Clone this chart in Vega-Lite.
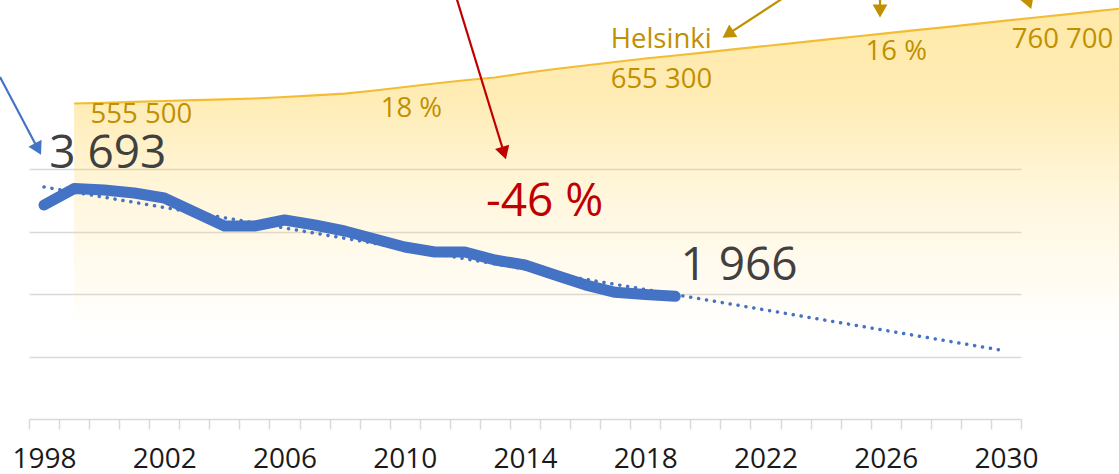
{
  "$schema": "https://vega.github.io/schema/vega-lite/v6.json",
  "width": 992,
  "height": 419,
  "autosize": {"type": "none"},
  "padding": {"left": 29, "top": 0, "right": 98, "bottom": 55},
  "background": "white",
  "config": {"view": {"stroke": null}, "font": "Open Sans"},
  "datasets": {
    "pop": [
      {"year": 1999, "pop": 555500}, {"year": 2000, "pop": 557000}, {"year": 2001, "pop": 558800},
      {"year": 2002, "pop": 560700}, {"year": 2003, "pop": 562400}, {"year": 2004, "pop": 564000},
      {"year": 2005, "pop": 565900}, {"year": 2006, "pop": 569000}, {"year": 2007, "pop": 572500},
      {"year": 2008, "pop": 576100}, {"year": 2009, "pop": 582500}, {"year": 2010, "pop": 589800},
      {"year": 2011, "pop": 597100}, {"year": 2012, "pop": 603900}, {"year": 2013, "pop": 609600},
      {"year": 2014, "pop": 618900}, {"year": 2015, "pop": 627200}, {"year": 2016, "pop": 634500},
      {"year": 2017, "pop": 641800}, {"year": 2018, "pop": 649100}, {"year": 2019, "pop": 655300},
      {"year": 2020, "pop": 661900}, {"year": 2021, "pop": 668500}, {"year": 2022, "pop": 675100},
      {"year": 2023, "pop": 681600}, {"year": 2024, "pop": 688200}, {"year": 2025, "pop": 694800},
      {"year": 2026, "pop": 701400}, {"year": 2027, "pop": 708000}, {"year": 2028, "pop": 714500},
      {"year": 2029, "pop": 721100}, {"year": 2030, "pop": 727700}, {"year": 2031, "pop": 734300},
      {"year": 2032, "pop": 740900}, {"year": 2033, "pop": 747500}, {"year": 2034, "pop": 754100},
      {"year": 2035, "pop": 760700}
    ],
    "co2": [
      {"year": 1998, "co2": 3429}, {"year": 1999, "co2": 3693}, {"year": 2000, "co2": 3670},
      {"year": 2001, "co2": 3622}, {"year": 2002, "co2": 3542}, {"year": 2003, "co2": 3317},
      {"year": 2004, "co2": 3093}, {"year": 2005, "co2": 3093}, {"year": 2006, "co2": 3189},
      {"year": 2007, "co2": 3109}, {"year": 2008, "co2": 3013}, {"year": 2009, "co2": 2885},
      {"year": 2010, "co2": 2756}, {"year": 2011, "co2": 2676}, {"year": 2012, "co2": 2676},
      {"year": 2013, "co2": 2548}, {"year": 2014, "co2": 2468}, {"year": 2015, "co2": 2308},
      {"year": 2016, "co2": 2150}, {"year": 2017, "co2": 2030}, {"year": 2018, "co2": 1995},
      {"year": 2019, "co2": 1966}
    ],
    "trend": [
      {"year": 1998, "trend": 3718}, {"year": 2030, "trend": 1090}
    ],
    "labels": [
      {"text": "555 500", "year": 1999.55, "v": 4744, "kind": "gold"},
      {"text": "18 %", "year": 2009.2, "v": 4840, "kind": "gold"},
      {"text": "Helsinki", "year": 2016.85, "v": 5946, "kind": "gold"},
      {"text": "655 300", "year": 2016.85, "v": 5305, "kind": "gold"},
      {"text": "16 %", "year": 2025.33, "v": 5753, "kind": "gold"},
      {"text": "760 700", "year": 2030.19, "v": 5946, "kind": "gold"},
      {"text": "3 693", "year": 1998.17, "v": 4022, "kind": "dark"},
      {"text": "1 966", "year": 2019.17, "v": 2228, "kind": "dark"},
      {"text": "-46 %", "year": 2012.7, "v": 3253, "kind": "red"}
    ],
    "arrows": [
      {"kind": "blue", "year": 1997.8, "v": 4327, "year0": 1996.535, "v0": 5481, "angle": -27.7},
      {"kind": "red", "year": 2013.302, "v": 4263, "year0": 2011.69, "v0": 6795, "angle": -17},
      {"kind": "gold", "year": 2020.75, "v": 6167, "year0": 2022.64, "v0": 6763, "angle": 56.8},
      {"kind": "gold", "year": 2025.81, "v": 6539, "year0": 2025.81, "v0": 6800, "angle": 0},
      {"kind": "gold", "year": 2030.767, "v": 6667, "year0": 2030.654, "v0": 6817, "angle": -20}
    ]
  },
  "encoding": {
    "x": {
      "field": "year",
      "type": "quantitative",
      "scale": {"domain": [1997.5, 2030.5], "nice": false, "zero": false},
      "axis": {
        "values": [1997.5, 1998.5, 1999.5, 2000.5, 2001.5, 2002.5, 2003.5, 2004.5, 2005.5, 2006.5, 2007.5, 2008.5, 2009.5, 2010.5, 2011.5, 2012.5, 2013.5, 2014.5, 2015.5, 2016.5, 2017.5, 2018.5, 2019.5, 2020.5, 2021.5, 2022.5, 2023.5, 2024.5, 2025.5, 2026.5, 2027.5, 2028.5, 2029.5, 2030.5],
        "labelExpr": "(datum.value + 0.5 - 1998) % 4 === 0 && datum.value < 2030 ? format(datum.value + 0.5, 'd') : ''",
        "labelOffset": 15.03,
        "labelFlush": false,
        "labelOverlap": false,
        "labelBound": false,
        "labelAngle": 0,
        "grid": false,
        "title": null,
        "domainColor": "#d9d9d9",
        "domainWidth": 1.5,
        "tickColor": "#d9d9d9",
        "tickWidth": 1.5,
        "tickSize": 10,
        "labelPadding": 16,
        "labelFont": "Open Sans",
        "labelFontSize": 28,
        "labelColor": "#1a1a1a"
      }
    }
  },
  "layer": [
    {
      "data": {"name": "pop"},
      "mark": {
        "type": "area",
        "line": {"color": "#F2BD35", "strokeWidth": 2.2},
        "color": {
          "gradient": "linear",
          "x1": 0, "y1": 0, "x2": 0, "y2": 1,
          "stops": [
            {"offset": 0, "color": "rgba(255,212,85,0.72)"},
            {"offset": 0.26, "color": "rgba(255,212,85,0.62)"},
            {"offset": 0.53, "color": "rgba(255,212,85,0.28)"},
            {"offset": 0.8, "color": "rgba(255,212,85,0.08)"},
            {"offset": 0.93, "color": "rgba(255,255,255,0)"}
          ]
        }
      },
      "encoding": {
        "y": {"field": "pop", "type": "quantitative", "scale": {"domain": [-100400, 770700], "nice": false, "zero": false}, "axis": null}
      }
    },
    {
      "layer": [
        {
          "data": {"name": "co2"},
          "mark": {"type": "line", "color": "#4472C4", "strokeWidth": 11, "strokeCap": "round", "strokeJoin": "round"},
          "encoding": {
            "y": {"field": "co2", "type": "quantitative", "scale": {"domain": [0, 6715], "nice": false, "zero": false},
              "axis": {"values": [1000, 2000, 3000, 4000], "grid": true, "gridColor": "#d9d9d9", "gridWidth": 1.5, "domain": false, "ticks": false, "labels": false, "title": null}}
          }
        },
        {
          "mark": {"type": "rule", "color": "#ffffff", "strokeWidth": 1.5, "opacity": 0.85},
          "encoding": {
            "x": {"datum": 1997.5, "type": "quantitative"},
            "x2": {"datum": 2030.5},
            "y": {"datum": 4890, "type": "quantitative", "scale": {"domain": [0, 6715], "nice": false, "zero": false},
              "axis": {"values": [1000, 2000, 3000, 4000], "grid": true, "gridColor": "#d9d9d9", "gridWidth": 1.5, "domain": false, "ticks": false, "labels": false, "title": null}}
          }
        },
        {
          "data": {"name": "trend"},
          "mark": {"type": "line", "color": "#4472C4", "strokeWidth": 3.5, "strokeDash": [0.1, 7.9], "strokeCap": "round"},
          "encoding": {
            "y": {"field": "trend", "type": "quantitative", "scale": {"domain": [0, 6715], "nice": false, "zero": false},
              "axis": {"values": [1000, 2000, 3000, 4000], "grid": true, "gridColor": "#d9d9d9", "gridWidth": 1.5, "domain": false, "ticks": false, "labels": false, "title": null}}
          }
        },
        {
          "data": {"name": "arrows"},
          "mark": {"type": "rule", "strokeWidth": 2.2},
          "encoding": {
            "x2": {"field": "year0"},
            "y": {"field": "v", "type": "quantitative", "scale": {"domain": [0, 6715], "nice": false, "zero": false},
              "axis": {"values": [1000, 2000, 3000, 4000], "grid": true, "gridColor": "#d9d9d9", "gridWidth": 1.5, "domain": false, "ticks": false, "labels": false, "title": null}},
            "y2": {"field": "v0"},
            "color": {"field": "kind", "type": "nominal", "scale": {"domain": ["blue", "red", "gold"], "range": ["#4472C4", "#C00000", "#BF9000"]}, "legend": null}
          }
        },
        {
          "data": {"name": "arrows"},
          "mark": {"type": "point", "shape": "triangle-down", "filled": true, "size": 220, "opacity": 1},
          "encoding": {
            "y": {"field": "v", "type": "quantitative", "scale": {"domain": [0, 6715], "nice": false, "zero": false},
              "axis": {"values": [1000, 2000, 3000, 4000], "grid": true, "gridColor": "#d9d9d9", "gridWidth": 1.5, "domain": false, "ticks": false, "labels": false, "title": null}},
            "angle": {"field": "angle", "type": "quantitative", "scale": null},
            "color": {"field": "kind", "type": "nominal", "scale": {"domain": ["blue", "red", "gold"], "range": ["#4472C4", "#C00000", "#BF9000"]}, "legend": null}
          }
        },
        {
          "data": {"name": "labels"},
          "transform": [{"filter": "datum.kind === 'gold'"}],
          "mark": {"type": "text", "align": "left", "baseline": "alphabetic", "font": "Open Sans", "fontSize": 27.5, "color": "#BF9000"},
          "encoding": {
            "text": {"field": "text"},
            "y": {"field": "v", "type": "quantitative", "scale": {"domain": [0, 6715], "nice": false, "zero": false},
              "axis": {"values": [1000, 2000, 3000, 4000], "grid": true, "gridColor": "#d9d9d9", "gridWidth": 1.5, "domain": false, "ticks": false, "labels": false, "title": null}}
          }
        },
        {
          "data": {"name": "labels"},
          "transform": [{"filter": "datum.kind === 'dark'"}],
          "mark": {"type": "text", "align": "left", "baseline": "alphabetic", "font": "Open Sans", "fontSize": 46, "color": "#404040"},
          "encoding": {
            "text": {"field": "text"},
            "y": {"field": "v", "type": "quantitative", "scale": {"domain": [0, 6715], "nice": false, "zero": false},
              "axis": {"values": [1000, 2000, 3000, 4000], "grid": true, "gridColor": "#d9d9d9", "gridWidth": 1.5, "domain": false, "ticks": false, "labels": false, "title": null}}
          }
        },
        {
          "data": {"name": "labels"},
          "transform": [{"filter": "datum.kind === 'red'"}],
          "mark": {"type": "text", "align": "left", "baseline": "alphabetic", "font": "Open Sans", "fontSize": 46, "color": "#C00000"},
          "encoding": {
            "text": {"field": "text"},
            "y": {"field": "v", "type": "quantitative", "scale": {"domain": [0, 6715], "nice": false, "zero": false},
              "axis": {"values": [1000, 2000, 3000, 4000], "grid": true, "gridColor": "#d9d9d9", "gridWidth": 1.5, "domain": false, "ticks": false, "labels": false, "title": null}}
          }
        }
      ]
    }
  ],
  "resolve": {"scale": {"y": "independent"}}
}
